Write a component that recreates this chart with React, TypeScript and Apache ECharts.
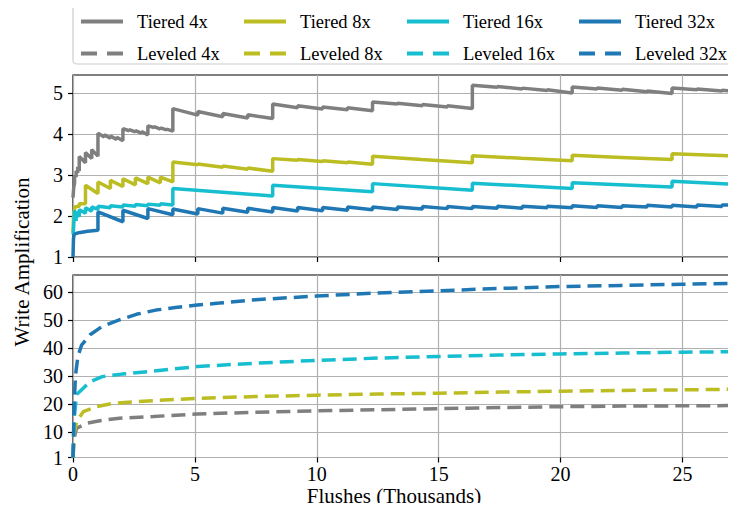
import React, { useEffect, useRef } from "react";
import * as echarts from "echarts";

// Flushes are in thousands; values are write amplification.
const RATIOS = ["4x", "8x", "16x", "32x"];
const COLORS = ["#7f7f7f", "#bcbd22", "#17becf", "#1f77b4"];

const X_TICKS = [0, 5, 10, 15, 20, 25];
const TOP_Y_TICKS = [1, 2, 3, 4, 5];
const BOTTOM_Y_TICKS = [1, 10, 20, 30, 40, 50, 60];

// Tiered compaction (step/sawtooth curves)
const tiered4x: number[][] = [
  [0, 2.45], [0.03, 2.7], [0.064, 2.8], [0.064, 3.0], [0.128, 2.95], [0.128, 3.1],
  [0.192, 3.05], [0.192, 3.2], [0.256, 3.1], [0.256, 3.45], [0.512, 3.3], [0.512, 3.55],
  [0.768, 3.4], [0.768, 3.62], [1.024, 3.46], [1.024, 4.02],
  [1.28, 3.93], [1.28, 3.98], [1.536, 3.9], [1.536, 3.95], [1.792, 3.87], [1.792, 3.92],
  [2.048, 3.84], [2.048, 4.13], [2.304, 4.08], [2.304, 4.11], [2.56, 4.05], [2.56, 4.08],
  [2.816, 4.02], [2.816, 4.06], [3.072, 3.98], [3.072, 4.2], [3.328, 4.16], [3.328, 4.18],
  [3.584, 4.12], [3.584, 4.15], [3.84, 4.1], [3.84, 4.12], [4.096, 4.07], [4.096, 4.62],
  [5.12, 4.46], [5.12, 4.55], [6.144, 4.42], [6.144, 4.5], [7.168, 4.39], [7.168, 4.47],
  [8.192, 4.38], [8.192, 4.73], [9.216, 4.64], [9.216, 4.69], [10.24, 4.61], [10.24, 4.66],
  [11.264, 4.59], [11.264, 4.64], [12.288, 4.57], [12.288, 4.78], [13.312, 4.73], [13.312, 4.75],
  [14.336, 4.69], [14.336, 4.72], [15.36, 4.66], [15.36, 4.69], [16.384, 4.62], [16.384, 5.19],
  [17.408, 5.14], [17.408, 5.16], [18.432, 5.1], [18.432, 5.12], [19.456, 5.06], [19.456, 5.08],
  [20.48, 5.0], [20.48, 5.15], [21.504, 5.1], [21.504, 5.12], [22.528, 5.07], [22.528, 5.09],
  [23.552, 5.03], [23.552, 5.05], [24.576, 4.99], [24.576, 5.12], [25.6, 5.08], [25.6, 5.1],
  [26.624, 5.05], [26.624, 5.07], [27.2, 5.04],
];
const tiered8x: number[][] = [
  [0, 1.6], [0.03, 2.1], [0.064, 2.15], [0.064, 2.22], [0.256, 2.24], [0.256, 2.3],
  [0.512, 2.3], [0.512, 2.75], [1.024, 2.55], [1.024, 2.83], [1.536, 2.67], [1.536, 2.87],
  [2.048, 2.72], [2.048, 2.91], [2.56, 2.76], [2.56, 2.93], [3.072, 2.79], [3.072, 2.95],
  [3.584, 2.81], [3.584, 2.95], [4.096, 2.83], [4.096, 3.32],
  [5.12, 3.25], [5.12, 3.27], [6.144, 3.19], [6.144, 3.22], [7.168, 3.14], [7.168, 3.17],
  [8.192, 3.09], [8.192, 3.4], [9.216, 3.36], [9.216, 3.38], [10.24, 3.33], [10.24, 3.35],
  [11.264, 3.3], [11.264, 3.32], [12.288, 3.26], [12.288, 3.46], [14.3, 3.38],
  [16.384, 3.3], [16.384, 3.47], [18.4, 3.41], [20.48, 3.35], [20.48, 3.48], [22.5, 3.43],
  [24.576, 3.38], [24.576, 3.52], [27.2, 3.46],
];
const tiered16x: number[][] = [
  [0, 1.55], [0.02, 1.65], [0.06, 2.14], [0.128, 1.88], [0.128, 2.1], [0.256, 1.98],
  [0.256, 2.15], [0.512, 2.07], [0.512, 2.2], [0.768, 2.12], [0.768, 2.22], [1.024, 2.16],
  [1.024, 2.24], [1.536, 2.2], [1.536, 2.25], [2.048, 2.22], [2.048, 2.27], [2.56, 2.24],
  [2.56, 2.28], [3.072, 2.25], [3.072, 2.29], [3.584, 2.26], [3.584, 2.3], [4.096, 2.27],
  [4.096, 2.67], [8.192, 2.49], [8.192, 2.75], [12.288, 2.59], [12.288, 2.79],
  [16.384, 2.63], [16.384, 2.8], [20.48, 2.67], [20.48, 2.81], [24.576, 2.71],
  [24.576, 2.85], [27.2, 2.77],
];
const tiered32x: number[][] = [
  [0, 1.0], [0.02, 1.45], [0.05, 1.55], [0.15, 1.58], [0.3, 1.6], [0.6, 1.63],
  [1.024, 1.65], [1.024, 2.1], [2.048, 1.86], [2.048, 2.14], [3.072, 1.94], [3.072, 2.18],
  [4.096, 2.03], [4.096, 2.17], [5.12, 2.05], [5.12, 2.18], [6.144, 2.07], [6.144, 2.19],
  [7.168, 2.09], [7.168, 2.19], [8.192, 2.1], [8.192, 2.21], [9.216, 2.12], [9.216, 2.21],
  [10.24, 2.13], [10.24, 2.21], [11.264, 2.14], [11.264, 2.22], [12.288, 2.15], [12.288, 2.22],
  [13.312, 2.16], [13.312, 2.22], [14.336, 2.17], [14.336, 2.23], [15.36, 2.18], [15.36, 2.23],
  [16.384, 2.18], [16.384, 2.23], [17.408, 2.19], [17.408, 2.24], [18.432, 2.19], [18.432, 2.24],
  [19.456, 2.2], [19.456, 2.24], [20.48, 2.2], [20.48, 2.25], [21.504, 2.21], [21.504, 2.25],
  [22.528, 2.21], [22.528, 2.25], [23.552, 2.22], [23.552, 2.26], [24.576, 2.22], [24.576, 2.26],
  [25.6, 2.22], [25.6, 2.27], [26.624, 2.23], [26.624, 2.27], [27.2, 2.26],
];

// Leveled compaction (smooth growth curves)
const leveled4x: number[][] = [
  [0, 1], [0.05, 8], [0.1, 9.8], [0.15, 11.4], [0.56, 13.2], [1.1, 14.1], [1.9, 15],
  [3.3, 15.6], [5.1, 16.5], [7.5, 17.1], [10, 17.6], [12.5, 18], [15, 18.4], [17.5, 18.8],
  [20, 19.1], [22.5, 19.3], [25, 19.4], [27.2, 19.5],
];
const leveled8x: number[][] = [
  [0, 1], [0.05, 9.5], [0.15, 13.8], [0.42, 17.3], [0.96, 19.1], [1.64, 20.3], [2.6, 20.9],
  [5.1, 22.1], [7.5, 22.7], [10, 23.2], [12.5, 23.6], [15, 23.9], [17.5, 24.3], [20, 24.6],
  [22.5, 24.9], [25, 25.1], [27.2, 25.3],
];
const leveled16x: number[][] = [
  [0, 1], [0.05, 15], [0.15, 23.4], [0.42, 25.7], [0.7, 28], [1.2, 29.8], [2, 30.7],
  [3.3, 31.8], [5.1, 33.4], [7.5, 34.6], [10, 35.6], [12.5, 36.4], [15, 37], [17.5, 37.5],
  [20, 37.9], [22.5, 38.2], [25, 38.5], [27.2, 38.7],
];
const leveled32x: number[][] = [
  [0, 1], [0.05, 20], [0.1, 30], [0.2, 37], [0.35, 41], [0.7, 44.7], [1.2, 47.7],
  [1.9, 50], [2.6, 52], [3.4, 53.5], [4.2, 54.4], [5.1, 55.3], [6, 56], [7.5, 57.2],
  [10, 58.5], [12.5, 59.6], [15, 60.4], [17.5, 61.2], [20, 61.9], [22.5, 62.3], [25, 62.7],
  [27.2, 63.05],
];

const TIERED = [tiered4x, tiered8x, tiered16x, tiered32x];
const LEVELED = [leveled4x, leveled8x, leveled16x, leveled32x];

const FONT = "Liberation Serif";
const LEGEND_LEFT = [79, 242, 405, 577];

export default function App() {
  const ref = useRef<HTMLDivElement>(null);

  useEffect(() => {
    if (!ref.current) return;
    const chart = echarts.init(ref.current, undefined, { renderer: "svg" });

    const gridStyle = {
      show: true,
      borderColor: "#000",
      borderWidth: 1.2,
      backgroundColor: "transparent",
    };

    const xAxisBase = (gridIndex: number, labels: boolean) => ({
      type: "value",
      gridIndex,
      min: 0,
      max: 27.2,
      interval: 5,
      axisLine: { show: false },
      axisTick: {
        show: true,
        length: 5,
        inside: false,
        lineStyle: { color: "#000", width: 1.2 },
        customValues: X_TICKS,
      },
      axisLabel: {
        show: labels,
        customValues: X_TICKS,
        color: "#000",
        fontFamily: FONT,
        fontSize: 20,
        margin: 6,
      },
      splitLine: { show: true, lineStyle: { color: "#b0b0b0", width: 1.2 } },
    });

    const yAxisBase = (gridIndex: number, max: number, ticks: number[]) => ({
      type: "value",
      gridIndex,
      min: 1,
      max,
      axisLine: { show: false },
      axisTick: {
        show: true,
        length: 5,
        lineStyle: { color: "#000", width: 1.2 },
        customValues: ticks,
      },
      axisLabel: {
        customValues: ticks,
        color: "#000",
        fontFamily: FONT,
        fontSize: 20,
        margin: 10,
      },
      splitLine: { show: true, lineStyle: { color: "#b0b0b0", width: 1.2 } },
    });

    const series: any[] = [];
    RATIOS.forEach((r, i) => {
      series.push({
        name: `Tiered ${r}`,
        type: "line",
        xAxisIndex: 0,
        yAxisIndex: 0,
        data: TIERED[i],
        showSymbol: false,
        symbol: "none",
        lineStyle: { color: COLORS[i], width: 3.5 },
        itemStyle: { color: COLORS[i] },
        clip: true,
      });
    });
    RATIOS.forEach((r, i) => {
      series.push({
        name: `Leveled ${r}`,
        type: "line",
        xAxisIndex: 1,
        yAxisIndex: 1,
        data: LEVELED[i],
        showSymbol: false,
        symbol: "none",
        lineStyle: { color: COLORS[i], width: 3.5, type: [14, 7] },
        itemStyle: { color: COLORS[i] },
        clip: true,
      });
    });

    // One vertical legend per ratio so the columns line up
    const legends = RATIOS.map((r, i) => ({
      left: LEGEND_LEFT[i],
      top: 12,
      orient: "vertical",
      padding: 0,
      itemGap: 13,
      itemWidth: 42,
      itemHeight: 14,
      selectedMode: false,
      itemStyle: { opacity: 0 },
      lineStyle: { width: 4 },
      data: [
        `Tiered ${r}`,
        { name: `Leveled ${r}`, lineStyle: { width: 4, type: [16, 10] } },
      ],
      textStyle: {
        color: "#000",
        fontFamily: FONT,
        fontSize: 18.5,
        padding: [0, 0, 0, 9],
      },
    }));

    chart.setOption({
      animation: false,
      backgroundColor: "#fff",
      grid: [
        { left: 73, top: 75, width: 669, height: 182, ...gridStyle },
        { left: 73, top: 275, width: 669, height: 182.5, ...gridStyle },
      ],
      xAxis: [xAxisBase(0, false), xAxisBase(1, true)],
      yAxis: [yAxisBase(0, 5.44, TOP_Y_TICKS), yAxisBase(1, 66, BOTTOM_Y_TICKS)],
      legend: legends,
      series,
      graphic: [
        {
          type: "rect",
          z: -1,
          shape: { x: 73, y: 5, width: 690, height: 59, r: 4 },
          style: { fill: "#fff", stroke: "#cccccc", lineWidth: 1.2 },
        },
        {
          type: "text",
          x: 22,
          y: 262,
          rotation: Math.PI / 2,
          style: {
            text: "Write Amplification",
            fontFamily: FONT,
            fontSize: 21,
            fill: "#000",
            textAlign: "center",
            textVerticalAlign: "middle",
          },
        },
        {
          type: "text",
          x: 394,
          y: 495.5,
          style: {
            text: "Flushes (Thousands)",
            fontFamily: FONT,
            fontSize: 21,
            fill: "#000",
            textAlign: "center",
            textVerticalAlign: "middle",
          },
        },
      ],
    });

    return () => chart.dispose();
  }, []);

  return <div ref={ref} style={{ width: 736, height: 511, margin: -8 }} />;
}
